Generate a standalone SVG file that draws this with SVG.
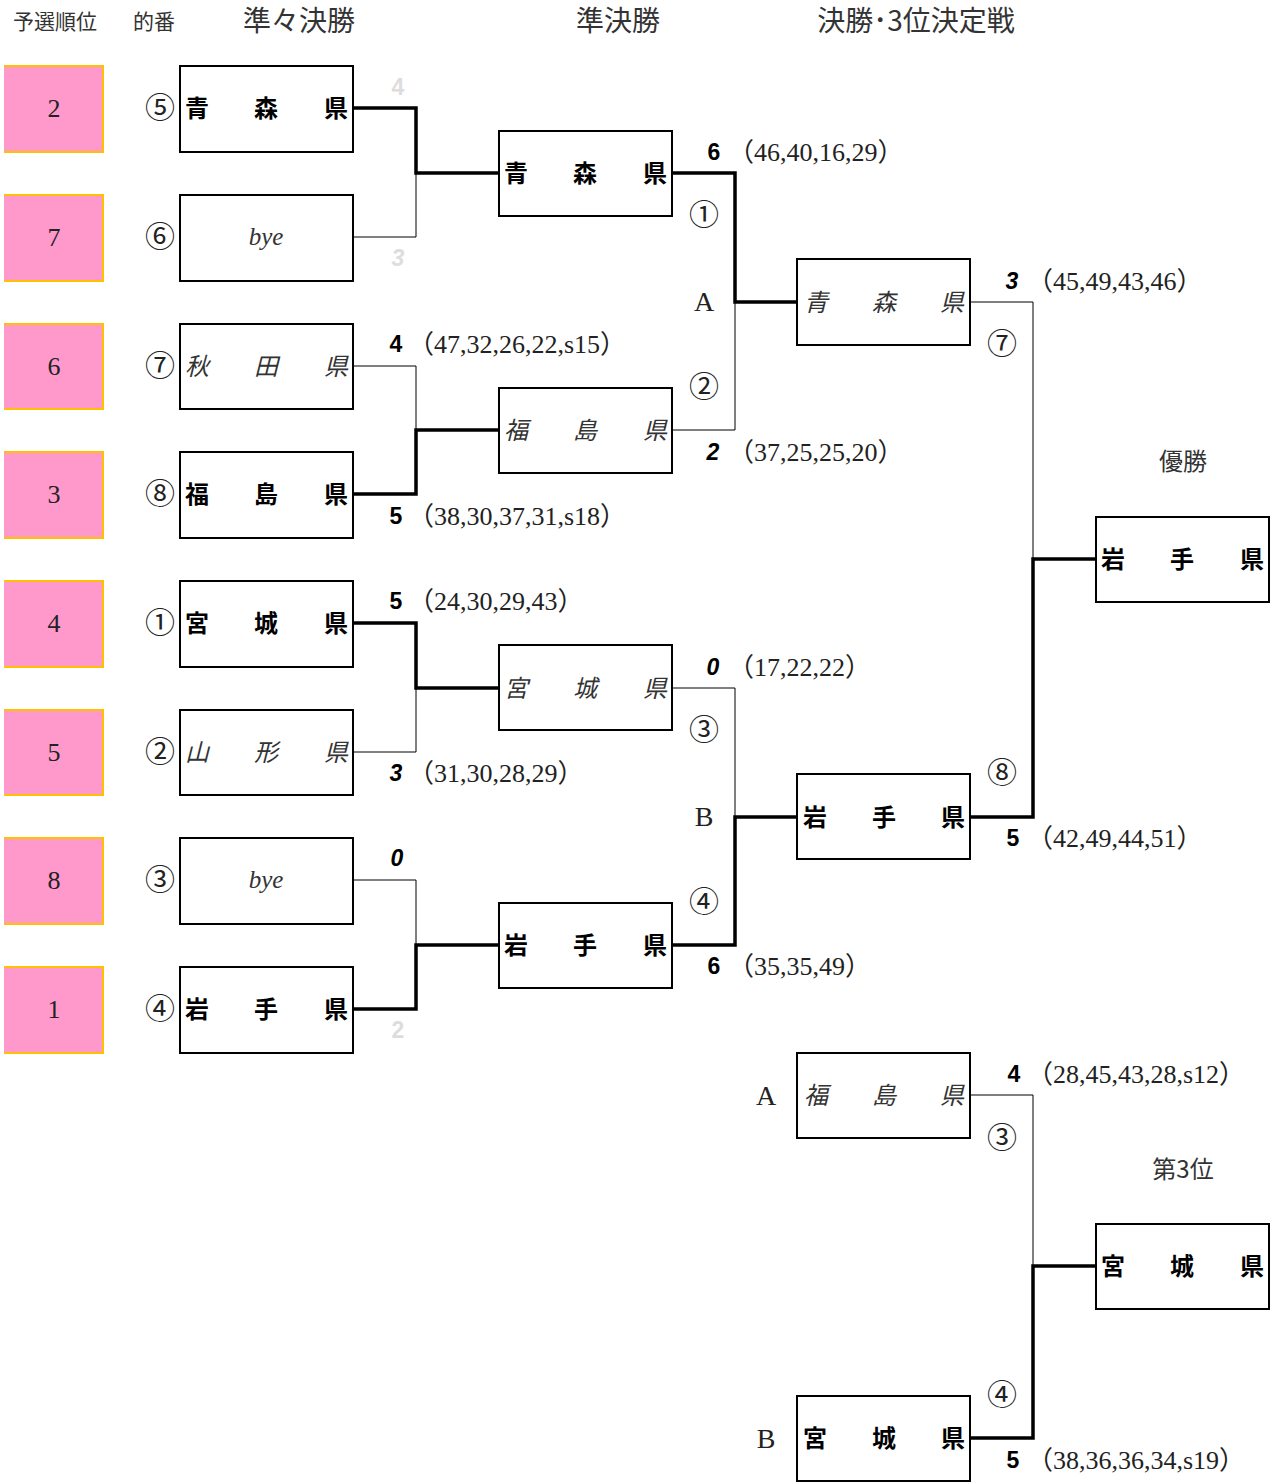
<svg xmlns="http://www.w3.org/2000/svg" width="1272" height="1482" viewBox="0 0 1272 1482">
<style>
.bg{fill:#fff}
.pink{fill:#FF99CC}
.gold{fill:none;stroke:#FFC000;stroke-width:2}
.box{fill:#fff;stroke:#000;stroke-width:2}
.hd{font-family:"Noto Sans CJK JP",sans-serif;fill:#333;text-anchor:middle}
.rk{font-family:"Liberation Serif",serif;font-size:26px;fill:#222;text-anchor:middle}
.cn{font-family:"Noto Sans CJK JP",sans-serif;font-size:30px;fill:#222;text-anchor:middle}
.nb{font-family:"Noto Sans CJK JP",sans-serif;font-size:24px;font-weight:bold;fill:#000;text-anchor:middle}
.ni{font-family:"Noto Sans CJK JP",sans-serif;font-size:24px;font-style:italic;fill:#333;text-anchor:middle}
.bye{font-family:"Liberation Serif",serif;font-size:25px;font-style:italic;fill:#333;text-anchor:middle}
.sc{font-family:"Liberation Sans",sans-serif;font-size:23px;font-weight:bold;fill:#000;text-anchor:middle}
.si{font-family:"Liberation Sans",sans-serif;font-size:23px;font-weight:bold;font-style:italic;fill:#000;text-anchor:middle}
.faint{fill:#ddd}
.dt{font-family:"Liberation Serif","Noto Sans CJK JP",serif;font-size:26px;fill:#222}
.ab{font-family:"Liberation Serif",serif;font-size:28px;fill:#222;text-anchor:middle}
.thick{fill:none;stroke:#000;stroke-width:3.5}
.thin{fill:none;stroke:#000;stroke-width:1}
</style>
<rect class="bg" x="0" y="0" width="1272" height="1482"/>

<g id="headers">
<text class="hd" x="55" y="29" font-size="21">予選順位</text>
<text class="hd" x="154" y="29" font-size="21">的番</text>
<text class="hd" x="299" y="31" font-size="28">準々決勝</text>
<text class="hd" x="618" y="31" font-size="28">準決勝</text>
<text class="hd" x="916" y="31" font-size="28">決勝･3位決定戦</text>
</g>

<g id="ranks">
<g id="rank-1"><rect class="pink" x="4" y="66" width="99" height="86"/><path class="gold" d="M4,66 H103 V152 H4"/><text class="rk" x="54" y="117">2</text></g>
<g id="rank-2"><rect class="pink" x="4" y="195" width="99" height="86"/><path class="gold" d="M4,195 H103 V281 H4"/><text class="rk" x="54" y="246">7</text></g>
<g id="rank-3"><rect class="pink" x="4" y="324" width="99" height="85"/><path class="gold" d="M4,324 H103 V409 H4"/><text class="rk" x="54" y="375">6</text></g>
<g id="rank-4"><rect class="pink" x="4" y="452" width="99" height="86"/><path class="gold" d="M4,452 H103 V538 H4"/><text class="rk" x="54" y="503">3</text></g>
<g id="rank-5"><rect class="pink" x="4" y="581" width="99" height="86"/><path class="gold" d="M4,581 H103 V667 H4"/><text class="rk" x="54" y="632">4</text></g>
<g id="rank-6"><rect class="pink" x="4" y="710" width="99" height="85"/><path class="gold" d="M4,710 H103 V795 H4"/><text class="rk" x="54" y="761">5</text></g>
<g id="rank-7"><rect class="pink" x="4" y="838" width="99" height="86"/><path class="gold" d="M4,838 H103 V924 H4"/><text class="rk" x="54" y="889">8</text></g>
<g id="rank-8"><rect class="pink" x="4" y="967" width="99" height="86"/><path class="gold" d="M4,967 H103 V1053 H4"/><text class="rk" x="54" y="1018">1</text></g>
</g>

<g id="draw-numbers">
<text class="cn" x="160" y="118">⑤</text>
<text class="cn" x="160" y="247">⑥</text>
<text class="cn" x="160" y="376">⑦</text>
<text class="cn" x="160" y="504">⑧</text>
<text class="cn" x="160" y="633">①</text>
<text class="cn" x="160" y="762">②</text>
<text class="cn" x="160" y="890">③</text>
<text class="cn" x="160" y="1019">④</text>
</g>

<g id="connectors">
<path class="thick" d="M353,108 H416 V173 H499"/>
<path class="thin" d="M353,237 H416 V173"/>
<path class="thin" d="M353,366 H416 V430"/>
<path class="thick" d="M353,494 H416 V430 H499"/>
<path class="thick" d="M353,623 H416 V688 H499"/>
<path class="thin" d="M353,752 H416 V688"/>
<path class="thin" d="M353,880 H416 V945"/>
<path class="thick" d="M353,1009 H416 V945 H499"/>
<path class="thick" d="M672,173 H735 V302 H797"/>
<path class="thin" d="M672,430 H735 V302"/>
<path class="thin" d="M672,688 H735 V817"/>
<path class="thick" d="M672,945 H735 V817 H797"/>
<path class="thin" d="M970,302 H1033 V559"/>
<path class="thick" d="M970,817 H1033 V559 H1096"/>
<path class="thin" d="M970,1095 H1033 V1266"/>
<path class="thick" d="M970,1438 H1033 V1266 H1096"/>
</g>

<g id="r1-aomori"><rect class="box" x="180" y="66" width="173" height="86"/><text class="nb" x="197" y="117">青</text><text class="nb" x="266" y="117">森</text><text class="nb" x="336" y="117">県</text></g>
<g id="r1-bye1"><rect class="box" x="180" y="195" width="173" height="86"/><text class="bye" x="266" y="245">bye</text></g>
<g id="r1-akita"><rect class="box" x="180" y="324" width="173" height="85"/><text class="ni" x="197" y="375">秋</text><text class="ni" x="266" y="375">田</text><text class="ni" x="336" y="375">県</text></g>
<g id="r1-fukushima"><rect class="box" x="180" y="452" width="173" height="86"/><text class="nb" x="197" y="503">福</text><text class="nb" x="266" y="503">島</text><text class="nb" x="336" y="503">県</text></g>
<g id="r1-miyagi"><rect class="box" x="180" y="581" width="173" height="86"/><text class="nb" x="197" y="632">宮</text><text class="nb" x="266" y="632">城</text><text class="nb" x="336" y="632">県</text></g>
<g id="r1-yamagata"><rect class="box" x="180" y="710" width="173" height="85"/><text class="ni" x="197" y="761">山</text><text class="ni" x="266" y="761">形</text><text class="ni" x="336" y="761">県</text></g>
<g id="r1-bye2"><rect class="box" x="180" y="838" width="173" height="86"/><text class="bye" x="266" y="888">bye</text></g>
<g id="r1-iwate"><rect class="box" x="180" y="967" width="173" height="86"/><text class="nb" x="197" y="1018">岩</text><text class="nb" x="266" y="1018">手</text><text class="nb" x="336" y="1018">県</text></g>

<g id="sf-aomori"><rect class="box" x="499" y="131" width="173" height="85"/><text class="nb" x="516" y="182">青</text><text class="nb" x="585" y="182">森</text><text class="nb" x="655" y="182">県</text></g>
<g id="sf-fukushima"><rect class="box" x="499" y="388" width="173" height="85"/><text class="ni" x="516" y="439">福</text><text class="ni" x="585" y="439">島</text><text class="ni" x="655" y="439">県</text></g>
<g id="sf-miyagi"><rect class="box" x="499" y="645" width="173" height="85"/><text class="ni" x="516" y="697">宮</text><text class="ni" x="585" y="697">城</text><text class="ni" x="655" y="697">県</text></g>
<g id="sf-iwate"><rect class="box" x="499" y="903" width="173" height="85"/><text class="nb" x="516" y="954">岩</text><text class="nb" x="585" y="954">手</text><text class="nb" x="655" y="954">県</text></g>

<g id="f-aomori"><rect class="box" x="797" y="259" width="173" height="86"/><text class="ni" x="816" y="311">青</text><text class="ni" x="884" y="311">森</text><text class="ni" x="952" y="311">県</text></g>
<g id="f-iwate"><rect class="box" x="797" y="774" width="173" height="85"/><text class="nb" x="815" y="826">岩</text><text class="nb" x="884" y="826">手</text><text class="nb" x="953" y="826">県</text></g>
<g id="champion"><rect class="box" x="1096" y="517" width="173" height="85"/><text class="nb" x="1113" y="568">岩</text><text class="nb" x="1182" y="568">手</text><text class="nb" x="1252" y="568">県</text></g>

<g id="t-fukushima"><rect class="box" x="797" y="1053" width="173" height="85"/><text class="ni" x="816" y="1104">福</text><text class="ni" x="884" y="1104">島</text><text class="ni" x="952" y="1104">県</text></g>
<g id="t-miyagi"><rect class="box" x="797" y="1396" width="173" height="85"/><text class="nb" x="815" y="1447">宮</text><text class="nb" x="884" y="1447">城</text><text class="nb" x="953" y="1447">県</text></g>
<g id="third"><rect class="box" x="1096" y="1224" width="173" height="85"/><text class="nb" x="1113" y="1275">宮</text><text class="nb" x="1182" y="1275">城</text><text class="nb" x="1252" y="1275">県</text></g>

<g id="scores">
<text class="sc faint" x="398" y="95">4</text>
<text class="si faint" x="398" y="266">3</text>
<text class="sc" x="396" y="352">4</text><text class="dt" x="408" y="353">（47,32,26,22,s15）</text>
<text class="sc" x="396" y="524">5</text><text class="dt" x="408" y="525">（38,30,37,31,s18）</text>
<text class="sc" x="396" y="609">5</text><text class="dt" x="408" y="610">（24,30,29,43）</text>
<text class="si" x="396" y="781">3</text><text class="dt" x="408" y="782">（31,30,28,29）</text>
<text class="si" x="397" y="866">0</text>
<text class="sc faint" x="398" y="1038">2</text>
<text class="sc" x="714" y="160">6</text><text class="dt" x="728" y="161">（46,40,16,29）</text>
<text class="si" x="713" y="460">2</text><text class="dt" x="728" y="461">（37,25,25,20）</text>
<text class="si" x="713" y="675">0</text><text class="dt" x="728" y="676">（17,22,22）</text>
<text class="sc" x="714" y="974">6</text><text class="dt" x="728" y="975">（35,35,49）</text>
<text class="si" x="1012" y="289">3</text><text class="dt" x="1027" y="290">（45,49,43,46）</text>
<text class="sc" x="1013" y="846">5</text><text class="dt" x="1027" y="847">（42,49,44,51）</text>
<text class="sc" x="1014" y="1082">4</text><text class="dt" x="1027" y="1083">（28,45,43,28,s12）</text>
<text class="sc" x="1013" y="1468">5</text><text class="dt" x="1027" y="1469">（38,36,36,34,s19）</text>
</g>

<g id="match-labels">
<text class="cn" x="704" y="225">①</text>
<text class="ab" x="704" y="311">A</text>
<text class="cn" x="704" y="397">②</text>
<text class="cn" x="704" y="740">③</text>
<text class="ab" x="704" y="826">B</text>
<text class="cn" x="704" y="912">④</text>
<text class="cn" x="1002" y="354">⑦</text>
<text class="cn" x="1002" y="783">⑧</text>
<text class="hd" x="1183" y="470" font-size="24">優勝</text>
<text class="ab" x="766" y="1105">A</text>
<text class="cn" x="1002" y="1148">③</text>
<text class="hd" x="1183" y="1178" font-size="24">第3位</text>
<text class="cn" x="1002" y="1405">④</text>
<text class="ab" x="766" y="1448">B</text>
</g>
</svg>
